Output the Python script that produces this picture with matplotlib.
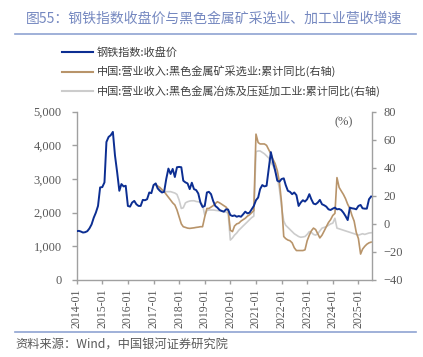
import matplotlib
matplotlib.use("Agg")
import matplotlib.pyplot as plt
from matplotlib.lines import Line2D
from matplotlib.ticker import FuncFormatter
import pandas as pd

plt.rcParams['font.family'] = ['Noto Sans CJK SC', 'DejaVu Sans']

# 钢铁指数:收盘价, monthly 2014-01 .. 2025-07
steel_index = [
    1450, 1460, 1440, 1410, 1420, 1450, 1530, 1650, 1850, 2000, 2200, 2750,
    2760, 2900, 4100, 4250, 4300, 4400, 3700, 3200, 2650, 2850, 2780, 2800,
    2200, 2180, 2300, 2350, 2250, 2200, 2200, 2380, 2370, 2400, 2600, 2580,
    2820, 2870, 2720, 2650, 2600, 2620, 3000, 3310, 3150, 3300, 3060, 3350,
    3360, 3350, 2950, 2900, 2870, 2700, 2890, 2700, 2670, 2570, 2300, 2170,
    2200, 2600, 2620, 2550, 2350, 2200, 2150, 2080, 2050, 2030, 2100, 2090,
    1930, 1900, 1920, 1880, 1900, 1880, 1950, 2030, 1980, 2000, 2100, 2200,
    2370, 2450, 2700, 2820, 2780, 2800, 3300, 3800, 3500, 3260, 2950, 2920,
    3000, 3020, 2820, 2650, 2620, 2550, 2600, 2520, 2200, 2300, 2370, 2330,
    2400, 2550, 2400, 2270, 2250, 2300, 2380, 2250, 2220, 2180, 2100, 2080,
    2120, 2150, 2100, 2110, 2080, 2000, 1900, 1780, 2150, 2130, 2120, 2100,
    2200, 2230, 2130, 2120, 2120, 2400, 2480,
]

# 黑色金属矿采选业 营收累计同比 (%), 2017-02 .. 2025-07
mining_yoy = [
    28, 27, 26, 24.5, 23, 21, 19, 17, 15, 13.5, 10,
    5, 0, -2, -2.5, -3, -3.2, -3, -2.8, -2.5, -2.3, -2, -2,
    5, 11, 11, 12, 13, 14.5, 15.8, 15, 14, 13, 12, 10,
    -4.5, -5.5, -1.5, 0, 0.5, 2, 3, 4, 5.5, 6.5, 8, 9.5,
    64, 58, 57, 57, 57, 56, 53, 50, 46, 43, 38, 30,
    15, -9, -10.5, -11.5, -12, -13.5, -17, -19, -19, -19, -19, -18.5,
    -12, -8, -5, -3, -4, -7, -10, -8, -5, -2, 1, 3,
    6, 7.5, 33, 26, 23.5, 21, 18, 14, 11, 6, 2, -6,
    -10.5, -21.5, -18, -16, -14.5, -13.5, -13,
]

# 黑色金属冶炼及压延加工业 营收累计同比 (%), 2017-02 .. 2025-07
smelting_yoy = [
    27.5, 26.5, 25, 24, 23, 23, 23, 23, 22.5, 22, 21,
    17, 11, 11.5, 15, 15.8, 16.3, 16.5, 16.5, 16, 15.8, 15.5, 13.5,
    6.3, 9.5, 9.9, 9.9, 9.9, 9.7, 9.5, 9.3, 9, 8.8, 8.5, 7.5,
    -11.5, -10, -8, -6.5, -4.5, -3, -1.5, 0, 1.5, 3, 4.5, 5.5,
    51.5, 52, 52, 51, 50, 48.5, 47, 44, 41.5, 38, 33, 25,
    12, 2, -1, -2.5, -4, -5.5, -7, -8, -9, -9.5, -9.3, -9,
    -7.5, -5.5, -6, -7.5, -8, -7, -5, -3, -2.5, -2, -1, 0,
    0.5, 4, -3, -3.5, -4, -4.5, -5, -5.5, -6, -6.5, -7, -7.5,
    -8, -7.5, -7, -7.5, -7, -6.5, -6.3,
]

labels = ['钢铁指数:收盘价',
          '中国:营业收入:黑色金属矿采选业:累计同比(右轴)',
          '中国:营业收入:黑色金属冶炼及压延加工业:累计同比(右轴)']
colors = ['#0c2e92', '#b8946a', '#cccccc']

dates = pd.date_range('2014-01-01', periods=len(steel_index), freq='MS')
yoy_dates = pd.date_range('2017-02-01', periods=len(mining_yoy), freq='MS')
year_ticks = pd.date_range('2014-01-01', '2025-01-01', freq='YS')

W, H = 423, 357
fig = plt.figure(figsize=(W / 100, H / 100), dpi=100)
ax = fig.add_axes([76.7 / W, 77 / H, 295.6 / W, 168.3 / H])
ax2 = ax.twinx()

ax.plot(dates, steel_index, color=colors[0], lw=1.4, zorder=3)
ax2.plot(yoy_dates, mining_yoy, color=colors[1], lw=1.2, zorder=2)
ax2.plot(yoy_dates, smelting_yoy, color=colors[2], lw=1.2, zorder=1)
ax.set_zorder(ax2.get_zorder() + 1)
ax.patch.set_visible(False)

ax.set_xlim(pd.Timestamp('2014-01-01'), pd.Timestamp('2025-07-18'))
ax.set_ylim(0, 5000)
ax.set_yticks(range(0, 5001, 1000))
ax.yaxis.set_major_formatter(FuncFormatter(lambda v, p: f'{int(v):,}'))
ax2.set_ylim(-40, 80)
ax2.set_yticks(range(-40, 81, 20))
ax.set_xticks(year_ticks)
ax.set_xticklabels([d.strftime('%Y-%m') for d in year_ticks], rotation=90)

tick_color = '#595959'
spine_color = '#a0a0a0'
serif = 'Liberation Serif'
for a in (ax, ax2):
    for s in a.spines.values():
        s.set_visible(False)
ax.spines['left'].set_visible(True)
ax.spines['bottom'].set_visible(True)
ax2.spines['right'].set_visible(True)
for s in (ax.spines['left'], ax.spines['bottom'], ax2.spines['right']):
    s.set_color(spine_color)
    s.set_linewidth(1.0)

ax.tick_params(axis='y', length=3.4, width=1.0, color=spine_color, pad=7.5,
               labelsize=9, labelcolor=tick_color)
ax.tick_params(axis='x', length=3, width=1.0, color=spine_color, pad=3,
               labelsize=8.5, labelcolor=tick_color)
ax2.tick_params(axis='y', length=3, width=1.0, color=spine_color, pad=5,
                labelsize=9, labelcolor=tick_color)
for t in ax.get_xticklabels() + ax.get_yticklabels() + ax2.get_yticklabels():
    t.set_fontfamily(serif)
for t in ax2.get_yticklabels():
    if t.get_text().startswith('-'):
        t.set_color('#ff0000')

ax2.text(0.935, 0.975, '(%)', transform=ax2.transAxes, ha='right', va='top',
         fontsize=9, color=tick_color, family=serif)

# title and rules
fig.text(26 / W, 1 - 19 / H, '图55：钢铁指数收盘价与黑色金属矿采选业、加工业营收增速',
         fontsize=10, color='#7588c0', va='center', ha='left')
for yy in (33.5, 331.5):
    fig.add_artist(Line2D([14.5 / W, 416 / W], [1 - yy / H, 1 - yy / H],
                          color='#8fa3d2', lw=1.2))

# legend
for i, (lab, c) in enumerate(zip(labels, colors)):
    yy = 1 - (52 + i * 19.5) / H
    fig.add_artist(Line2D([62 / W, 93 / W], [yy, yy], color=c, lw=1.5))
    fig.text(97 / W, yy, lab, fontsize=8, color='#404040', va='center')

fig.text(15.5 / W, 1 - 345 / H, '资料来源：Wind，中国银河证券研究院',
         fontsize=8.8, color='#595959', va='center', style='italic')

fig.savefig('out.png', dpi=100)
